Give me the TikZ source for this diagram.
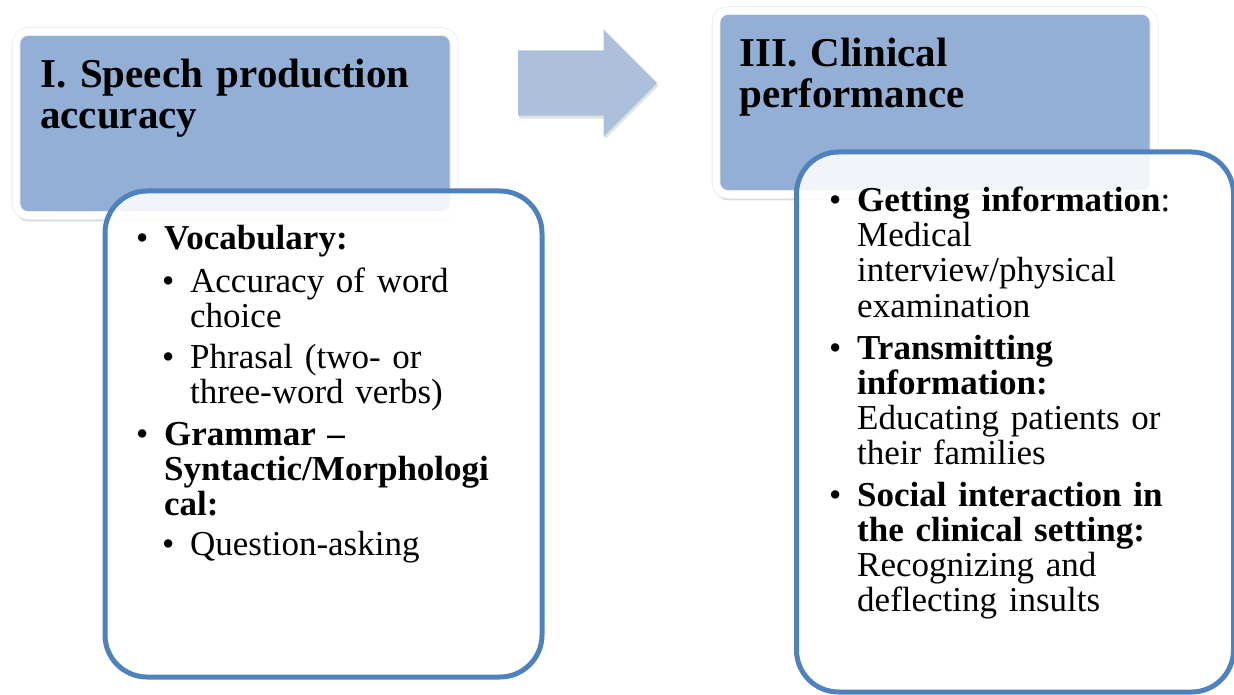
\documentclass[tikz,border=0pt]{standalone}
\usepackage{fontspec}
\setmainfont{Liberation Serif}
\definecolor{hdrblue}{RGB}{148,175,213}
\definecolor{edgeblue}{RGB}{79,129,189}
\definecolor{arrblue}{RGB}{172,192,220}
\usetikzlibrary{positioning, shapes.arrows, shadows}
\newcommand{\itm}{\leavevmode\llap{\makebox[28pt][l]{\textbullet}}}

\begin{document}
\begin{tikzpicture}[
        x=1pt, y=-1pt,
        hdr/.style={rectangle, rounded corners=12pt, fill=hdrblue, draw=black!8, line width=0.8pt, double=white, double distance=7pt, minimum width=438pt, minimum height=184pt, drop shadow={shadow xshift=0pt, shadow yshift=-6pt, opacity=0.2, fill=black!70}},
        box/.style={rectangle, rounded corners=42pt, draw=edgeblue, line width=5pt, fill=white, fill opacity=0.88, minimum width=437pt},
        bigarr/.style={single arrow, fill=arrblue, draw=none, inner xsep=0pt, inner ysep=32.5pt, minimum height=139pt, single arrow head extend=21pt, drop shadow={shadow xshift=1pt, shadow yshift=-3pt, opacity=0.12, fill=black}},
        htext/.style={anchor=base west, align=left, text width=420pt, inner sep=0pt, font=\fontsize{41}{41}\selectfont\bfseries},
        pt/.style={anchor=base west, align=left, text width=380pt, inner sep=0pt, font=\fontsize{35}{35}\selectfont}
    ]
        \useasboundingbox (0,0) rectangle (1234,695);

        % Left column
        \node[hdr] (H1) at (235,123.5) {};
        \node[htext] (T1) at (40,88) {I. Speech production\\accuracy};
        \node[box, minimum height=486pt] (B1) at (323.5,434) {};
        \node[pt] (VOC) at (164,250) {\itm\textbf{Vocabulary:}};
        \node[pt] (ACC) at (190,292) {\itm Accuracy of word\\choice};
        \node[pt] (PHR) at (190,368) {\itm Phrasal (two- or\\three-word verbs)};
        \node[pt] (GRM) at (164,445) {\itm\textbf{Grammar –\\Syntactic/Morphologi\\cal:}};
        \node[pt] (QST) at (190,555) {\itm Question-asking};

        % Arrow
        \node[bigarr, anchor=tail] (ARR) at (518,83) {};

        % Right column
        \node[hdr] (H2) at (935,102.5) {};
        \node[htext] (T2) at (739,67) {III. Clinical\\performance};
        \node[box, minimum height=540pt] (B2) at (1015,422) {};
        \node[pt] (GET) at (857,212) {\itm\textbf{Getting information}:\\Medical\\interview/physical\\examination};
        \node[pt] (TRN) at (857,359) {\itm\textbf{Transmitting\\information:}\\Educating patients or\\their families};
        \node[pt] (SOC) at (857,506) {\itm\textbf{Social interaction in\\the clinical setting:}\\Recognizing and\\deflecting insults};
    \end{tikzpicture}
\end{document}
